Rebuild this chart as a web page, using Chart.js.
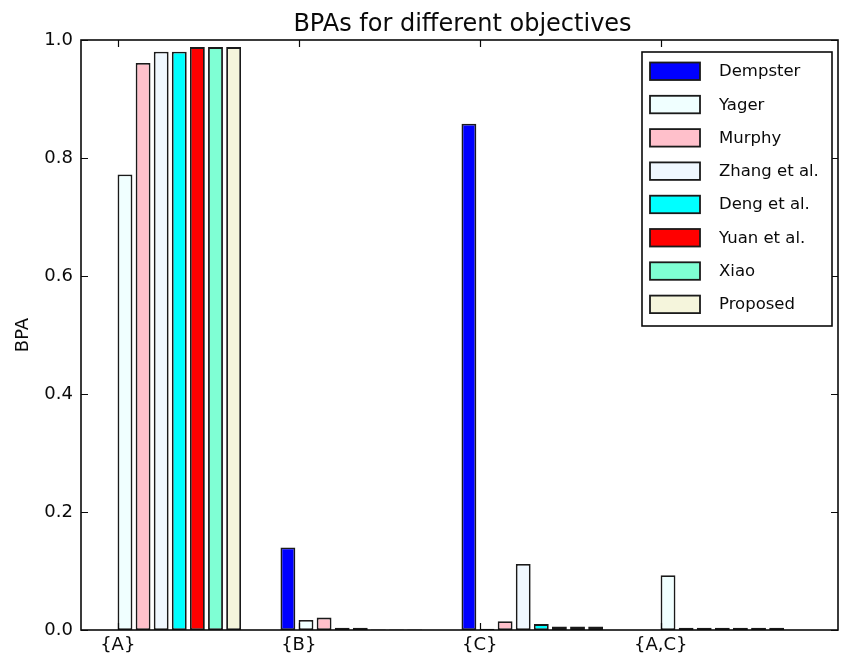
<!DOCTYPE html>
<html>
<head>
<meta charset="utf-8">
<script src="https://cdn.jsdelivr.net/npm/chart.js@4"></script>
<style>
  html, body { margin: 0; padding: 0; background: #fff; }
  #wrap { width: 846px; height: 658px; }
</style>
</head>
<body>
<div id="wrap"><canvas id="chart" width="846" height="658"></canvas></div>
<script>
const categories = ['{A}', '{B}', '{C}', '{A,C}'];
const yTicks = [0, 0.2, 0.4, 0.6, 0.8, 1.0];

const dempster = [0, 0.14, 0.858, 0];
const yager    = [0.772, 0.017, 0.002, 0.093];
const murphy   = [0.961, 0.021, 0.015, 0.004];
const zhang    = [0.98, 0.004, 0.112, 0.004];
const deng     = [0.98, 0.004, 0.010, 0.004];
const yuan     = [0.988, 0.001, 0.006, 0.004];
const xiao     = [0.988, 0.001, 0.006, 0.004];
const proposed = [0.988, 0.001, 0.006, 0.004];

const seriesNames  = ['Dempster', 'Yager', 'Murphy', 'Zhang et al.', 'Deng et al.', 'Yuan et al.', 'Xiao', 'Proposed'];
const seriesValues = [dempster, yager, murphy, zhang, deng, yuan, xiao, proposed];
const seriesColors = ['#0000ff', '#f0ffff', '#ffc0cb', '#f0f8ff', '#00ffff', '#ff0000', '#7fffd4', '#f5f5dc'];

// matplotlib-like layout: group of bars starts at index, ticks sit at index + 0.1
const groupCenter = 0.39;
const tickOffset = 0.1;
const FONT = 'DejaVu Sans';
const INK = '#0a0a0a';

const datasets = seriesNames.map((name, s) => ({
  label: name,
  data: categories.map((c, i) => ({ x: i + groupCenter, y: seriesValues[s][i] })),
  backgroundColor: seriesColors[s],
  borderColor: '#1a1a1a',
  borderWidth: 1.8,
  borderSkipped: false,
  categoryPercentage: 0.8,
  barPercentage: 0.82
}));

const framePlugin = {
  id: 'frame',
  afterDatasetsDraw(chart) {
    const { ctx, chartArea: a, scales: { x, y } } = chart;
    const len = 7;
    ctx.save();
    ctx.strokeStyle = INK;
    ctx.lineWidth = 1.6;
    ctx.strokeRect(a.left, a.top, a.right - a.left, a.bottom - a.top);
    ctx.lineWidth = 1.2;
    ctx.beginPath();
    yTicks.forEach(v => {
      const py = Math.round(y.getPixelForValue(v)) + 0.5;
      ctx.moveTo(a.left, py); ctx.lineTo(a.left + len, py);
      ctx.moveTo(a.right, py); ctx.lineTo(a.right - len, py);
    });
    categories.forEach((c, i) => {
      const px = Math.round(x.getPixelForValue(i + tickOffset)) + 0.5;
      ctx.moveTo(px, a.top); ctx.lineTo(px, a.top + len);
      ctx.moveTo(px, a.bottom); ctx.lineTo(px, a.bottom - len);
    });
    ctx.stroke();
    ctx.restore();
  }
};

const titlePlugin = {
  id: 'plotTitle',
  afterDraw(chart) {
    const { ctx, chartArea: a } = chart;
    ctx.save();
    ctx.fillStyle = INK;
    ctx.font = '24px "' + FONT + '"';
    ctx.textAlign = 'center';
    ctx.textBaseline = 'alphabetic';
    ctx.fillText('BPAs for different objectives', (a.left + a.right) / 2 + 3, 31);
    ctx.restore();
  }
};

const legendPlugin = {
  id: 'boxLegend',
  afterDraw(chart) {
    const { ctx } = chart;
    const box = { left: 642, top: 52, right: 832, bottom: 326 };
    ctx.save();
    ctx.fillStyle = '#fff';
    ctx.fillRect(box.left, box.top, box.right - box.left, box.bottom - box.top);
    ctx.strokeStyle = INK;
    ctx.lineWidth = 1.6;
    ctx.strokeRect(box.left, box.top, box.right - box.left, box.bottom - box.top);
    ctx.font = '16.5px "' + FONT + '"';
    ctx.textBaseline = 'middle';
    ctx.textAlign = 'left';
    chart.data.datasets.forEach((ds, i) => {
      const top = 62.5 + i * 33.3;
      ctx.fillStyle = ds.backgroundColor;
      ctx.fillRect(650, top, 50, 17.5);
      ctx.lineWidth = 1.8;
      ctx.strokeStyle = '#1a1a1a';
      ctx.strokeRect(650, top, 50, 17.5);
      ctx.fillStyle = INK;
      ctx.fillText(ds.label, 719, top + 9.5);
    });
    ctx.restore();
  }
};

new Chart(document.getElementById('chart'), {
  type: 'bar',
  data: { datasets },
  options: {
    responsive: false,
    animation: false,
    layout: { padding: { left: 0, top: 40, right: 8, bottom: 0 } },
    plugins: {
      legend: { display: false },
      title: { display: false },
      tooltip: { enabled: false }
    },
    scales: {
      x: {
        type: 'linear',
        offset: false,
        min: -0.103,
        max: 4.079,
        grid: { display: false, drawTicks: false },
        border: { display: false },
        afterBuildTicks: (scale) => {
          scale.ticks = categories.map((c, i) => ({ value: i + tickOffset }));
        },
        afterFit: (scale) => { scale.height = 28; },
        ticks: {
          padding: 5,
          maxRotation: 0,
          autoSkip: false,
          color: INK,
          font: { family: FONT, size: 18 },
          callback: (value, index) => categories[index]
        }
      },
      y: {
        min: 0,
        max: 1,
        grid: { display: false, drawTicks: false },
        border: { display: false },
        afterBuildTicks: (scale) => {
          scale.ticks = yTicks.map(v => ({ value: v }));
        },
        afterFit: (scale) => { scale.width = 81; },
        title: {
          display: true,
          text: 'BPA',
          color: INK,
          font: { family: FONT, size: 18, lineHeight: 1.2 },
          padding: { top: 13, bottom: 0 }
        },
        ticks: {
          padding: 8,
          color: INK,
          font: { family: FONT, size: 18 },
          callback: (value) => Number(value).toFixed(1)
        }
      }
    }
  },
  plugins: [framePlugin, titlePlugin, legendPlugin]
});
</script>
</body>
</html>
